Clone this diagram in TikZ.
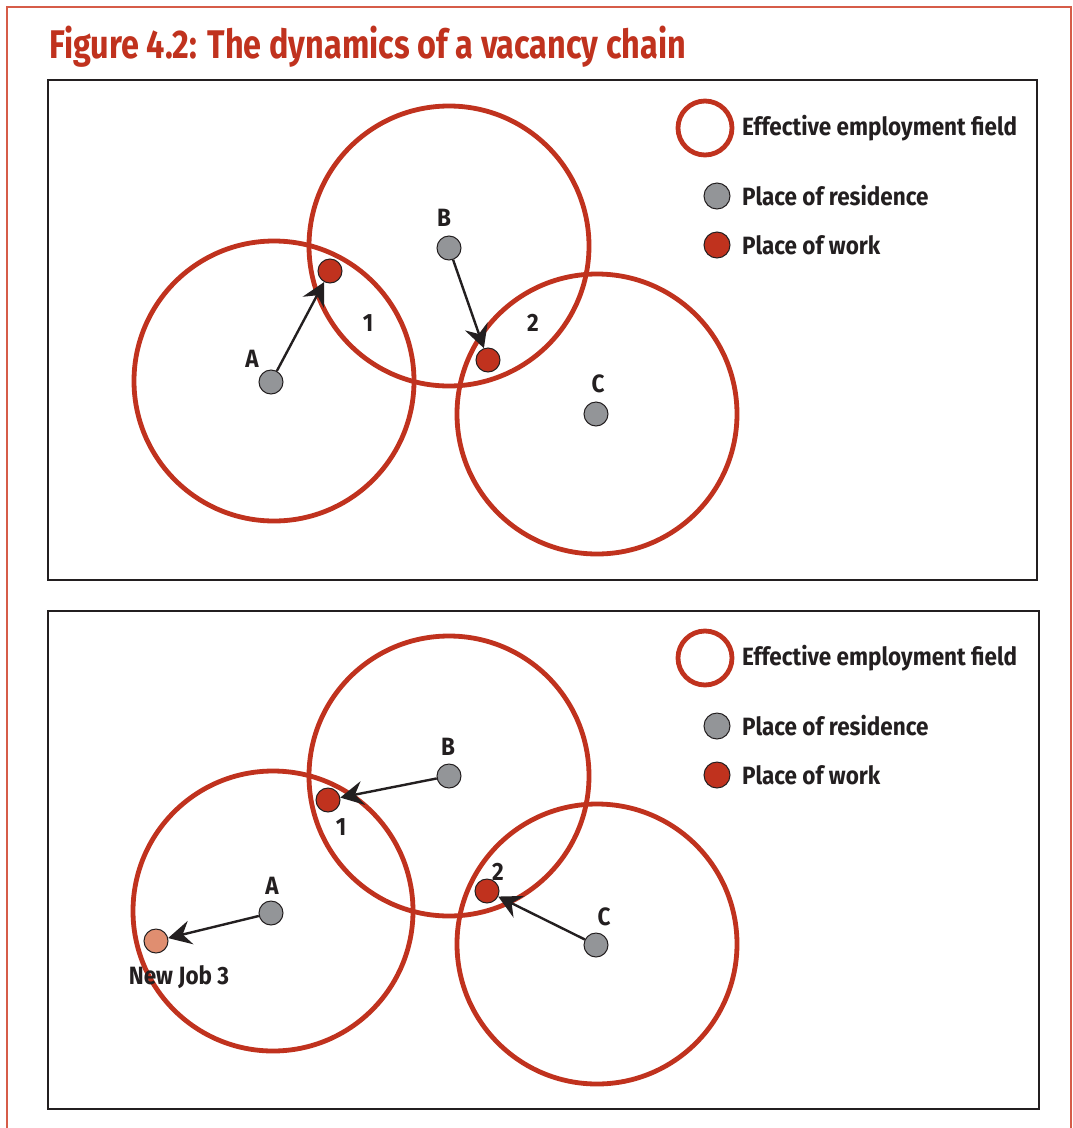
\documentclass[tikz,border=0pt]{standalone}
\usepackage{fontspec}
\usetikzlibrary{arrows.meta}
\newfontfamily\gill[FakeStretch=0.9]{Fira Sans}
\newfontfamily\gilltitle[FakeStretch=0.81]{Fira Sans}

\definecolor{fieldred}{RGB}{192,50,30}
\definecolor{framered}{RGB}{214,92,72}
\definecolor{homegray}{RGB}{147,149,152}
\definecolor{newjob}{RGB}{224,142,112}
\definecolor{ink}{RGB}{35,31,32}

\begin{document}
\begin{tikzpicture}[
    x=1pt, y=-1pt,
    font=\gill\bfseries\fontsize{25}{28}\selectfont,
    text=ink,
    field/.style={circle, draw=fieldred, line width=4.8pt, minimum size=280pt, inner sep=0pt},
    dot/.style={circle, draw=ink, line width=1pt, fill=#1, minimum size=24pt, inner sep=0pt},
    dot/.default=homegray,
    arr/.style={-{Stealth[length=23pt, width=24pt, inset=8pt]}, line width=2.4pt, draw=ink},
    panel/.style={draw=ink, line width=1.2pt},
    legend/.style={anchor=west, inner sep=0pt}
]

    % Page and outer frame
    \useasboundingbox[fill=white] (0,0) rectangle (1072,1128);
    \draw[framered, line width=1.2pt] (7,1130) -- (7,7) -- (1071,7) -- (1071,1130);

    % Title
    \node[anchor=west, inner sep=0pt, text=fieldred,
          font=\gilltitle\bfseries\fontsize{40}{44}\selectfont] (title) at (49,47)
        {Figure 4.2: The dynamics of a vacancy chain};

    % ---------------- Upper panel ----------------
    \draw[panel] (48,80) rectangle (1037,580);

    % Employment fields
    \node[field] (fieldA) at (274,381) {};
    \node[field] (fieldB) at (449,246) {};
    \node[field] (fieldC) at (597,414) {};

    % Residences and jobs
    \node[dot] (resA) at (271,382) {};
    \node[dot] (resB) at (449,248) {};
    \node[dot] (resC) at (596,414) {};
    \node[dot=fieldred] (jobA) at (330,271) {};
    \node[dot=fieldred] (jobB) at (488,360) {};

    \node (labA) at (252,359) {A};
    \node (labB) at (444,218) {B};
    \node (labC) at (598,384) {C};
    \node (lab1) at (368,323) {1};
    \node (lab2) at (533,323) {2};

    \draw[arr] (resA) -- (jobA);
    \draw[arr] (resB) -- (jobB);

    % Legend
    \node[field, minimum size=54pt] (keyField) at (705,128) {};
    \node[dot, minimum size=26pt] (keyRes) at (717,196) {};
    \node[dot=fieldred, minimum size=26pt] (keyJob) at (717,245) {};
    \node[legend] at (742,128) {Effective employment field};
    \node[legend] at (742,196) {Place of residence};
    \node[legend] at (742,245) {Place of work};

    % ---------------- Lower panel ----------------
    \begin{scope}[yshift=-530pt]
    \draw[panel] (48,81) rectangle (1039,579);

    % Employment fields
    \node[field] (fieldA') at (273,381) {};
    \node[field] (fieldB') at (449,246) {};
    \node[field] (fieldC') at (597,414) {};

    % Residences, vacated jobs and the new job
    \node[dot] (resA') at (271,383) {};
    \node[dot] (resB') at (449,246) {};
    \node[dot] (resC') at (596,415) {};
    \node[dot=fieldred] (job1') at (328,270) {};
    \node[dot=fieldred] (job2') at (487,361) {};
    \node[dot=newjob] (job3') at (156,411) {};

    \node (labA') at (272,356) {A};
    \node (labB') at (448,217) {B};
    \node (labC') at (604,387) {C};
    \node (lab1') at (341,297) {1};
    \node (lab2') at (498,342) {2};
    \node (lab3') at (179,447) {New Job 3};

    \draw[arr] (resB') -- (job1');
    \draw[arr] (resC') -- (job2');
    \draw[arr] (resA') -- (job3');

    % Legend
    \node[field, minimum size=54pt] (keyField') at (705,128) {};
    \node[dot, minimum size=26pt] (keyRes') at (717,196) {};
    \node[dot=fieldred, minimum size=26pt] (keyJob') at (717,245) {};
    \node[legend] at (742,128) {Effective employment field};
    \node[legend] at (742,196) {Place of residence};
    \node[legend] at (742,245) {Place of work};
    \end{scope}

\end{tikzpicture}
\end{document}
